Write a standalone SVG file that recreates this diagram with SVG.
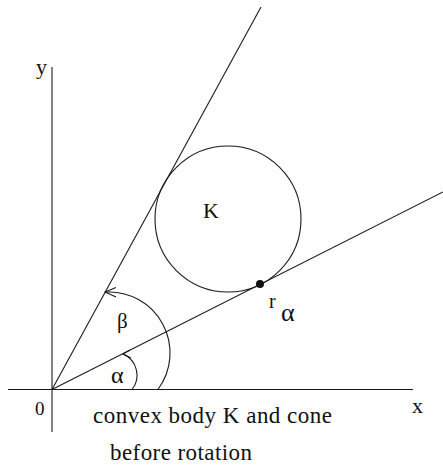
<svg xmlns="http://www.w3.org/2000/svg" width="443" height="472" viewBox="0 0 443 472">
<style>
.ln{stroke:#1a1a1a;stroke-width:1.1;fill:none}
.t{font-family:"Liberation Serif","Times New Roman",serif;fill:#111}
</style>
<rect width="443" height="472" fill="#fff"/>
<g id="connectors">
<line id="x-axis" class="ln" x1="8" y1="389.5" x2="413" y2="389.5"/>
<line id="y-axis" class="ln" x1="52" y1="67" x2="52" y2="432"/>
<line id="upper-ray" class="ln" x1="52" y1="389.5" x2="261" y2="7"/>
<line id="lower-ray" class="ln" x1="52" y1="389.5" x2="443" y2="192"/>
<path id="beta-arc" class="ln" d="M157.9,389.5 A61,61 0 0 0 105.1,292.1"/>
<path id="beta-arrow" class="ln" d="M116,287.5 L105.1,292.1 L116,297"/>
<path id="alpha-arc" class="ln" d="M132,389.5 A23,23 0 0 0 123,354"/>
<path id="alpha-arrow" class="ln" d="M130,350 L123,354 L131,358"/>
</g>
<g id="body-K">
<circle class="ln" cx="228" cy="219" r="73"/>
<text class="t" x="203" y="218" font-size="22">K</text>
</g>
<g id="point-r">
<circle cx="260" cy="284" r="4" fill="#111"/>
<text class="t" x="269" y="308" font-size="20">r</text>
<text class="t" x="281" y="321" font-size="26">α</text>
</g>
<g id="labels">
<text class="t" x="36" y="74" font-size="22">y</text>
<text class="t" x="412" y="413" font-size="22">x</text>
<text class="t" x="35" y="415" font-size="19">0</text>
<text class="t" x="117" y="328" font-size="21">β</text>
<text class="t" x="111" y="383" font-size="24">α</text>
<text class="t" x="93" y="423" font-size="23" textLength="239">convex body K and cone</text>
<text class="t" x="110" y="460" font-size="23" textLength="142">before rotation</text>
</g>
</svg>
